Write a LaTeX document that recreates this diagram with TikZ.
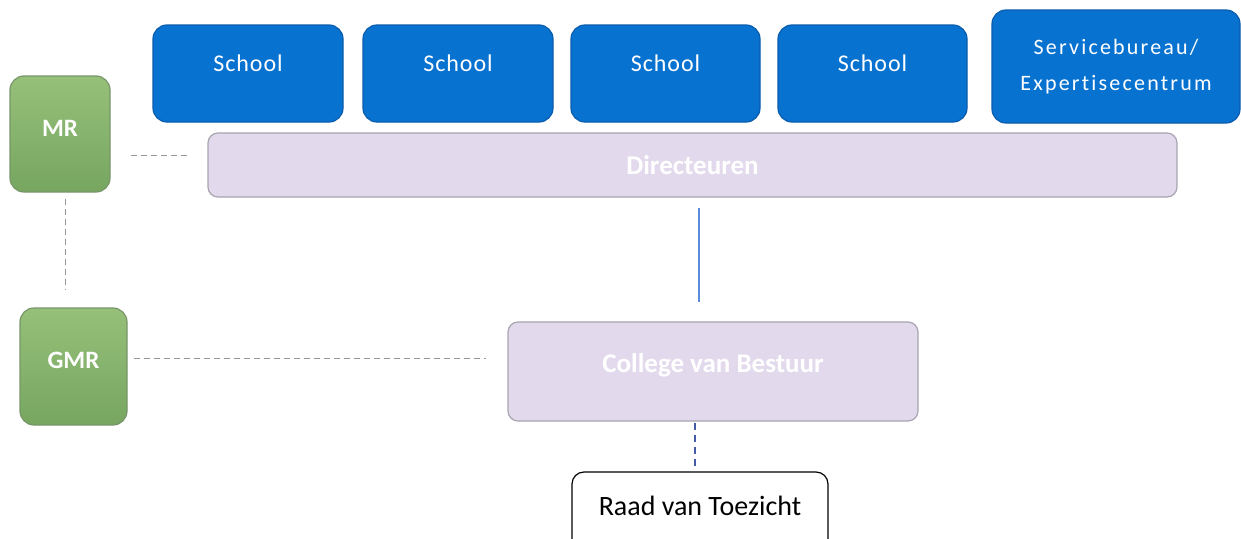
\documentclass[tikz,border=0pt]{standalone}
\usepackage{fontspec}
\setmainfont{Carlito}
\newfontfamily\spacedfont[LetterSpace=10,Ligatures={NoCommon}]{Carlito}
\newfontfamily\schoolfont[LetterSpace=4,Ligatures={NoCommon}]{Carlito}
\usetikzlibrary{shadings}
\definecolor{schoolblue}{RGB}{8,114,208}
\definecolor{schoolborder}{RGB}{10,92,172}
\definecolor{lav}{RGB}{226,218,236}
\definecolor{lavborder}{RGB}{168,164,176}
\definecolor{greentop}{RGB}{150,192,122}
\definecolor{greenbot}{RGB}{118,166,96}
\definecolor{greenborder}{RGB}{120,150,105}
\definecolor{dashgrey}{RGB}{150,150,150}
\definecolor{linkblue}{RGB}{90,140,220}
\definecolor{dashblue}{RGB}{70,90,170}
\tikzset{
  bluebox/.style={draw=schoolborder, line width=1.2pt, fill=schoolblue, rounded corners=14pt,
    text=white, font=\spacedfont\fontsize{22}{36}\selectfont, align=center, inner sep=0pt},
  schoolbox/.style={bluebox, font=\schoolfont\fontsize{24}{28}\selectfont,
    minimum height=97pt},
  lavbox/.style={draw=lavborder, line width=1.2pt, fill=lav, rounded corners=10pt,
    text=white, inner sep=0pt},
  greenbox/.style={draw=greenborder, line width=1.2pt, top color=greentop, bottom color=greenbot,
    rounded corners=14pt, text=white, font=\bfseries\fontsize{25}{29}\selectfont, inner sep=0pt},
  plainbox/.style={draw=black, line width=1.2pt, fill=white, rounded corners=12pt,
    text=black, font=\fontsize{28}{32}\selectfont, inner sep=0pt},
  greydash/.style={draw=dashgrey, line width=1pt, dash pattern=on 6pt off 4pt},
  bluesolid/.style={draw=linkblue, line width=1.2pt},
  bluedash/.style={draw=dashblue, line width=1.4pt, dash pattern=on 7pt off 5pt},
}
\begin{document}
\begin{tikzpicture}[x=1pt,y=-1pt]
\useasboundingbox (0,0) rectangle (1241,538);
\fill[white] (0,0) rectangle (1241,538);
% schools
\node[schoolbox, minimum width=190pt] (s1) at (248,73.5) {\raisebox{21pt}{School}};
\node[schoolbox, minimum width=190pt] (s2) at (458,73.5) {\raisebox{21pt}{School}};
\node[schoolbox, minimum width=189pt] (s3) at (665.5,73.5) {\raisebox{21pt}{School}};
\node[schoolbox, minimum width=189pt] (s4) at (872.5,73.5) {\raisebox{21pt}{School}};
\node[bluebox, minimum width=248pt, minimum height=113pt] (sb) at (1116,66.5) {Servicebureau/\\Expertisecentrum};
% directeuren
\node[lavbox, minimum width=969pt, minimum height=64pt, font=\bfseries\fontsize{27}{31}\selectfont] (dir) at (692.5,165) {Directeuren};
% college
\node[lavbox, minimum width=410pt, minimum height=99pt, font=\bfseries\fontsize{27}{31}\selectfont] (cvb) at (713,371.5) {\raisebox{16pt}{College van Bestuur}};
% MR / GMR
\node[greenbox, minimum width=100pt, minimum height=116pt] (mr) at (60,134) {\raisebox{11pt}{MR}};
\node[greenbox, minimum width=107pt, minimum height=117pt] (gmr) at (73.5,366.5) {\raisebox{12pt}{GMR}};
% raad
\begin{scope}
\clip (0,0) rectangle (1241,538);
\node[plainbox, minimum width=256pt, minimum height=80pt] (rvt) at (700,512) {\raisebox{12pt}{Raad van Toezicht}};
\end{scope}
% connectors
\coordinate (hmr) at (0,155);
\coordinate (vmr) at (65,0);
\coordinate (hgmr) at (0,358);
\coordinate (vdir) at (699,0);
\coordinate (vcvb) at (695,0);
\draw[greydash, shorten <=20pt, shorten >=18pt] (mr.east |- hmr) -- (dir.west |- hmr);
\draw[greydash, shorten <=6pt, shorten >=18pt] (mr.south -| vmr) -- (gmr.north -| vmr);
\draw[greydash, shorten <=6pt, shorten >=21pt] (gmr.east |- hgmr) -- (cvb.west |- hgmr);
\draw[bluesolid, shorten <=10pt, shorten >=19pt] (dir.south -| vdir) -- (cvb.north -| vdir);
\draw[bluedash, shorten <=1pt, shorten >=5pt] (cvb.south -| vcvb) -- (rvt.north -| vcvb);
\end{tikzpicture}
\end{document}
